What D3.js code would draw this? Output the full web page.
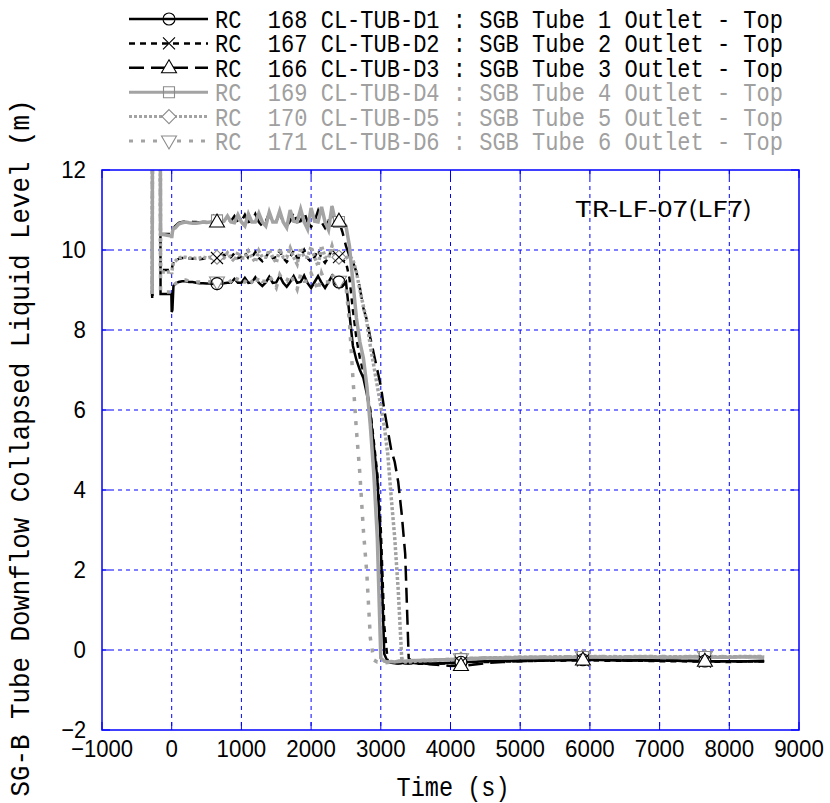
<!DOCTYPE html>
<html><head><meta charset="utf-8">
<script src="https://cdn.jsdelivr.net/npm/d3@7"></script>
<style>body{margin:0;background:#fff}</style>
</head><body><svg id="c" width="830" height="803"></svg>
<script>
// ---------- DATA ----------
const times = [
  -280, -275, -165, -160, -5, 0, 10, 25,
  50, 100, 150, 200, 250, 300, 350, 400, 450, 500,
  550, 600, 650, 700, 750, 800, 850, 900, 950, 1000,
  1050, 1100, 1150, 1200, 1250, 1300, 1350, 1400, 1450, 1500,
  1550, 1600, 1650, 1700, 1750, 1800, 1850, 1900, 1950, 2000,
  2050, 2100, 2150, 2200, 2250, 2300, 2350, 2400, 2450,
  2500, 2550, 2600, 2650, 2700, 2750, 2800, 2850, 2900, 2950,
  3000, 3050, 3100, 3150, 3200, 3250, 3300, 3350, 3400, 3450,
  3500, 3750, 4000, 4250, 4500, 4750, 5000, 5250, 5500, 5750,
  6000, 6250, 6500, 6750, 7000, 7250, 7500, 7750, 8000, 8250, 8500
];
const d1 = [
  8.8, 14, 14, 8.9, 8.9, 8.45, 8.5, 9.1,
  9.15, 9.2, 9.22, 9.22, 9.2, 9.2, 9.18, 9.17, 9.17, 9.16,
  9.16, 9.15, 9.16, 9.17, 9.17, 9.18, 9.18,
  9.28, 9.18, 9.18, 9.3, 9.18, 9.19, 9.32, 9.18, 9.1, 9.19,
  9.33, 9.18, 9.19, 9.35, 9.18, 9.08, 9.2, 9.35, 9.18, 9.2,
  9.36, 9.17, 9.05, 9.2, 9.35, 9.18, 9.05, 9.2, 9.35, 9.15,
  9.2, 9.1,
  9.2, 8.4, 7.6, 7.25, 7.0, 6.8, 6.4, 5.9, 5.1, 4.3,
  2.6, -0.1, -0.3, -0.32, -0.33, -0.33, -0.32, -0.34, -0.33, -0.32,
  -0.33, -0.34, -0.32, -0.3, -0.28, -0.27, -0.26, -0.26, -0.25, -0.25,
  -0.24, -0.25, -0.26, -0.25, -0.26, -0.27, -0.27, -0.28, -0.28, -0.28, -0.27
];
const d2 = [
  8.85, 14, 14, 9.5, 9.5, 9.5, 9.6, 9.7,
  9.72, 9.78, 9.8, 9.8, 9.79, 9.78, 9.78, 9.77, 9.78, 9.8,
  9.79, 9.8, 9.8, 9.81, 9.88, 9.8, 9.82,
  9.92, 9.8, 9.82, 9.93, 9.8, 9.82, 9.95, 9.8, 9.72, 9.82,
  9.96, 9.8, 9.82, 9.97, 9.8, 9.7, 9.82, 9.98, 9.8, 9.82,
  10.0, 9.8, 9.7, 9.82, 10.0, 9.8, 9.68, 9.82, 10.02, 9.78,
  9.82, 9.75,
  9.7, 9.3, 8.5, 7.8, 7.3, 6.95, 6.5, 6.0, 5.2, 4.4,
  3.0, 0.6, -0.3, -0.32, -0.33, -0.34, -0.33, -0.33, -0.34, -0.33,
  -0.34, -0.35, -0.33, -0.31, -0.3, -0.29, -0.28, -0.27, -0.27, -0.26,
  -0.26, -0.27, -0.27, -0.27, -0.28, -0.28, -0.29, -0.29, -0.3, -0.29, -0.29
];
const d3v = [
  8.85, 14, 14, 10.4, 10.4, 10.4, 10.5, 10.55,
  10.6, 10.68, 10.7, 10.72, 10.72, 10.7, 10.7, 10.69, 10.7, 10.7,
  10.72, 10.85, 10.7, 10.72, 10.7, 10.74, 10.72,
  10.85, 10.7, 10.72, 10.88, 10.7, 10.72, 10.9, 10.7, 10.6, 10.72,
  10.92, 10.7, 10.72, 10.92, 10.7, 10.6, 10.72, 10.95, 10.7, 10.72,
  10.95, 10.7, 10.58, 10.72, 10.98, 10.7, 10.55, 10.72, 11.0, 10.65,
  10.72, 10.45,
  10.1, 9.85, 9.7, 9.45, 9.05, 8.55, 8.25, 7.8, 7.4, 7.0,
  6.6, 6.0, 5.5, 5.0, 4.7, 4.2, 3.4, 2.4, -0.2, -0.3,
  -0.32, -0.36, -0.4, -0.38, -0.33, -0.3, -0.28, -0.27, -0.26, -0.25,
  -0.25, -0.25, -0.26, -0.26, -0.27, -0.27, -0.28, -0.28, -0.28, -0.29, -0.28
];
const d4 = [
  8.9, 14, 14, 10.4, 10.35, 10.3, 10.45, 10.55,
  10.55, 10.65, 10.68, 10.7, 10.68, 10.67, 10.67, 10.68, 10.7, 10.69,
  10.7, 10.72, 10.74, 10.7, 10.72, 10.85, 10.7,
  10.68, 10.88, 10.7, 10.6, 10.9, 10.7, 10.7, 10.92, 10.7, 10.6,
  10.95, 10.7, 10.7, 10.98, 10.7, 10.56, 11.0, 10.72, 10.7, 11.02,
  10.7, 10.52, 11.05, 10.72, 10.7, 11.08, 10.7, 10.5, 11.1, 10.7,
  10.7, 10.7,
  10.6, 10.1, 9.2, 8.3, 7.7, 7.3, 6.6, 5.6, 4.4, 2.8,
  -0.2, -0.28, -0.3, -0.29, -0.3, -0.28, -0.27, -0.28, -0.27, -0.26,
  -0.26, -0.25, -0.24, -0.22, -0.2, -0.2, -0.19, -0.18, -0.19, -0.18,
  -0.17, -0.18, -0.18, -0.17, -0.18, -0.18, -0.17, -0.18, -0.18, -0.17, -0.18
];
const d5 = [
  8.9, 14, 14, 9.45, 9.45, 9.4, 9.55, 9.68,
  9.72, 9.8, 9.82, 9.82, 9.8, 9.8, 9.79, 9.8, 9.82, 9.8,
  9.82, 9.8, 9.82, 9.8, 9.8, 9.93, 9.8,
  9.72, 9.95, 9.8, 9.8, 9.97, 9.82, 9.7, 9.98, 9.82, 9.82,
  10.0, 9.82, 9.68, 10.02, 9.82, 9.82, 10.05, 9.82, 9.65, 10.05,
  9.82, 9.82, 10.08, 9.82, 9.6, 10.1, 9.82, 9.8, 10.1, 9.8,
  9.82, 9.8,
  9.8, 9.85, 9.75, 9.45, 9.0, 8.6, 8.2, 7.6, 7.1, 6.6,
  6.1, 5.6, 4.9, 3.8, 2.8, 1.5, -0.2, -0.3, -0.3, -0.29,
  -0.28, -0.26, -0.24, -0.22, -0.2, -0.19, -0.18, -0.18, -0.17, -0.17,
  -0.16, -0.17, -0.17, -0.16, -0.17, -0.17, -0.16, -0.17, -0.17, -0.16, -0.17
];
const d6 = [
  8.9, 14, 14, 8.95, 8.95, 9.0, 9.05, 9.1,
  9.15, 9.22, 9.25, 9.25, 9.22, 9.2, 9.2, 9.2, 9.2, 9.22,
  9.2, 9.22, 9.2, 9.2, 9.2, 9.3, 9.2,
  9.12, 9.32, 9.2, 9.2, 9.33, 9.2, 9.1, 9.35, 9.22, 9.22,
  9.36, 9.22, 9.06, 9.38, 9.22, 9.22, 9.4, 9.22, 9.02, 9.4,
  9.22, 9.22, 9.42, 9.22, 8.98, 9.42, 9.2, 9.2, 9.4, 9.2,
  9.22, 9.2,
  9.1, 8.2, 6.8, 5.5, 4.4, 3.0, 1.9, 0.3, -0.25, -0.3,
  -0.3, -0.32, -0.31, -0.3, -0.3, -0.29, -0.28, -0.28, -0.27, -0.27,
  -0.27, -0.25, -0.23, -0.21, -0.2, -0.19, -0.18, -0.18, -0.17, -0.17,
  -0.17, -0.16, -0.17, -0.17, -0.16, -0.17, -0.17, -0.16, -0.17, -0.17, -0.16
];
const seriesLabels = [
  "RC  168 CL-TUB-D1 : SGB Tube 1 Outlet - Top",
  "RC  167 CL-TUB-D2 : SGB Tube 2 Outlet - Top",
  "RC  166 CL-TUB-D3 : SGB Tube 3 Outlet - Top",
  "RC  169 CL-TUB-D4 : SGB Tube 4 Outlet - Top",
  "RC  170 CL-TUB-D5 : SGB Tube 5 Outlet - Top",
  "RC  171 CL-TUB-D6 : SGB Tube 6 Outlet - Top"
];
const xTicks = [-1000, 0, 1000, 2000, 3000, 4000, 5000, 6000, 7000, 8000, 9000];
const yTicks = [-2, 0, 2, 4, 6, 8, 10, 12];
const markerTimes = [650, 2400, 4150, 5900, 7650];
const xTitle = "Time (s)";
const yTitle = "SG-B Tube Downflow Collapsed Liquid Level (m)";
const caseLabel = "TR-LF-07(LF7)";

// ---------- STYLES ----------
const BLACK = "#000", GRAY = "#a3a3a3", BLUE = "#0000ff";
const styles = [
  {color: BLACK, w: 2.5, dash: null, marker: "circle"},
  {color: BLACK, w: 2.5, dash: "6,5", marker: "x"},
  {color: BLACK, w: 2.5, dash: "15,7", marker: "tri"},
  {color: GRAY, w: 3.5, dash: null, marker: "square"},
  {color: GRAY, w: 3.5, dash: "3,2", marker: "diamond"},
  {color: GRAY, w: 3.5, dash: "4,8", marker: "itri"}
];
const seriesVals = [d1, d2, d3v, d4, d5, d6];

// ---------- CHART ----------
const svg = d3.select("#c");
const m = {left: 102, right: 799, top: 170, bottom: 730};
const x = d3.scaleLinear().domain([-1000, 9000]).range([m.left, m.right]);
const y = d3.scaleLinear().domain([-2, 12]).range([m.bottom, m.top]);

svg.append("defs").append("clipPath").attr("id", "clip")
  .append("rect").attr("x", m.left).attr("y", m.top)
  .attr("width", m.right - m.left).attr("height", m.bottom - m.top);

// grid
const grid = svg.append("g");
xTicks.slice(1, -1).forEach(t => grid.append("line")
  .attr("x1", x(t)).attr("x2", x(t)).attr("y1", m.top).attr("y2", m.bottom)
  .attr("stroke", BLUE).attr("stroke-width", 1).attr("stroke-dasharray", "4,4"));
yTicks.slice(1, -1).forEach(v => grid.append("line")
  .attr("y1", y(v)).attr("y2", y(v)).attr("x1", m.left).attr("x2", m.right)
  .attr("stroke", BLUE).attr("stroke-width", 1).attr("stroke-dasharray", "4,4"));

// ticks (inward)
const tk = svg.append("g").attr("stroke", BLUE).attr("stroke-width", 1);
xTicks.forEach(t => {
  tk.append("line").attr("x1", x(t)).attr("x2", x(t)).attr("y1", m.bottom).attr("y2", m.bottom - 8);
  tk.append("line").attr("x1", x(t)).attr("x2", x(t)).attr("y1", m.top).attr("y2", m.top + 8);
});
yTicks.forEach(v => {
  tk.append("line").attr("y1", y(v)).attr("y2", y(v)).attr("x1", m.left).attr("x2", m.left + 8);
  tk.append("line").attr("y1", y(v)).attr("y2", y(v)).attr("x1", m.right).attr("x2", m.right - 8);
});

// lines
const line = d3.line().x((d, i) => x(times[i])).y(d => y(d));
const lg = svg.append("g").attr("clip-path", "url(#clip)");
seriesVals.forEach((vals, k) => {
  const s = styles[k];
  lg.append("path").attr("d", line(vals)).attr("fill", "none")
    .attr("stroke", s.color).attr("stroke-width", s.w)
    .attr("stroke-dasharray", s.dash).attr("stroke-linejoin", "miter");
});

// marker shapes
function markerPath(type, cx, cy) {
  const p = d3.path();
  if (type === "circle") { p.moveTo(cx + 6, cy); p.arc(cx, cy, 6, 0, 2 * Math.PI); }
  else if (type === "x") { p.moveTo(cx - 6, cy - 6); p.lineTo(cx + 6, cy + 6); p.moveTo(cx + 6, cy - 6); p.lineTo(cx - 6, cy + 6); }
  else if (type === "tri") { p.moveTo(cx, cy - 8); p.lineTo(cx + 7.5, cy + 5); p.lineTo(cx - 7.5, cy + 5); p.closePath(); }
  else if (type === "square") { p.rect(cx - 5.5, cy - 5.5, 11, 11); }
  else if (type === "diamond") { p.moveTo(cx, cy - 7); p.lineTo(cx + 7, cy); p.lineTo(cx, cy + 7); p.lineTo(cx - 7, cy); p.closePath(); }
  else if (type === "itri") { p.moveTo(cx, cy + 8); p.lineTo(cx + 7.5, cy - 5); p.lineTo(cx - 7.5, cy - 5); p.closePath(); }
  return p.toString();
}
function valueAt(vals, t) {
  const i = d3.bisectLeft(times, t);
  if (times[i] === t) return vals[i];
  const t0 = times[i - 1], t1 = times[i];
  return vals[i - 1] + (vals[i] - vals[i - 1]) * (t - t0) / (t1 - t0);
}
const mg = svg.append("g");
[5, 4, 3, 0, 1, 2].forEach(k => {
  const vals = seriesVals[k], s = styles[k];
  markerTimes.forEach(t => {
    mg.append("path").attr("d", markerPath(s.marker, x(t), y(valueAt(vals, t))))
      .attr("fill", (s.marker === "x" || s.marker === "circle") ? "none" : "#fff")
      .attr("stroke", s.color === BLACK ? "#000" : "#8c8c8c").attr("stroke-width", 1.1);
  });
});

// border
svg.append("rect").attr("x", m.left).attr("y", m.top)
  .attr("width", m.right - m.left).attr("height", m.bottom - m.top)
  .attr("fill", "none").attr("stroke", BLUE).attr("stroke-width", 1.5);

// tick labels
const fmt = d => (d < 0 ? "\u2212" : "") + Math.abs(d);
xTicks.forEach(t => {
  const s = fmt(t);
  svg.append("text").attr("x", x(t)).attr("y", 757).attr("text-anchor", "middle")
    .attr("font-family", "Liberation Sans, Arial, sans-serif").attr("font-size", 24)
    .attr("textLength", s.length * 12.4).attr("lengthAdjust", "spacingAndGlyphs").text(s);
});
yTicks.forEach(v => {
  const s = fmt(v);
  svg.append("text").attr("x", 86).attr("y", y(v) + 8).attr("text-anchor", "end")
    .attr("font-family", "Liberation Sans, Arial, sans-serif").attr("font-size", 24)
    .attr("textLength", s.length * 12.4).attr("lengthAdjust", "spacingAndGlyphs").text(s);
});

// axis titles
svg.append("text").attr("x", 453).attr("y", 796).attr("text-anchor", "middle")
  .attr("font-family", "Liberation Mono, DejaVu Sans Mono, monospace").attr("font-size", 28)
  .attr("textLength", 113).attr("lengthAdjust", "spacingAndGlyphs")
  .style("white-space", "pre").text(xTitle);
svg.append("text").attr("transform", "translate(29,448) rotate(-90)").attr("text-anchor", "middle")
  .attr("font-family", "Liberation Mono, DejaVu Sans Mono, monospace").attr("font-size", 28)
  .attr("textLength", 697).attr("lengthAdjust", "spacingAndGlyphs")
  .style("white-space", "pre").text(yTitle);

// case label
svg.append("text").attr("x", 575).attr("y", 217)
  .attr("font-family", "Noto Sans CJK JP, Noto Sans, sans-serif").attr("font-size", 22)
  .attr("textLength", 177).attr("lengthAdjust", "spacingAndGlyphs").text(caseLabel);

// legend
seriesLabels.forEach((lab, k) => {
  const s = styles[k];
  const by = 28 + k * 24.4, ly = by - 9;
  svg.append("line").attr("x1", 129).attr("x2", 208).attr("y1", ly).attr("y2", ly)
    .attr("stroke", s.color).attr("stroke-width", s.color === BLACK ? 2.5 : 3)
    .attr("stroke-dasharray", s.dash);
  svg.append("path").attr("d", markerPath(s.marker, 169, ly))
    .attr("fill", (s.marker === "circle" || s.marker === "square" || s.marker === "x") ? "none" : "#fff")
    .attr("stroke", s.color === BLACK ? "#000" : "#8c8c8c").attr("stroke-width", 1.1);
  svg.append("text").attr("x", 215).attr("y", by)
    .attr("font-family", "Liberation Mono, DejaVu Sans Mono, monospace").attr("font-size", 26)
    .attr("fill", s.color === BLACK ? "#000" : "#a0a0a0")
    .attr("textLength", 568).attr("lengthAdjust", "spacingAndGlyphs")
    .style("white-space", "pre").text(lab);
});
</script>
</body></html>
